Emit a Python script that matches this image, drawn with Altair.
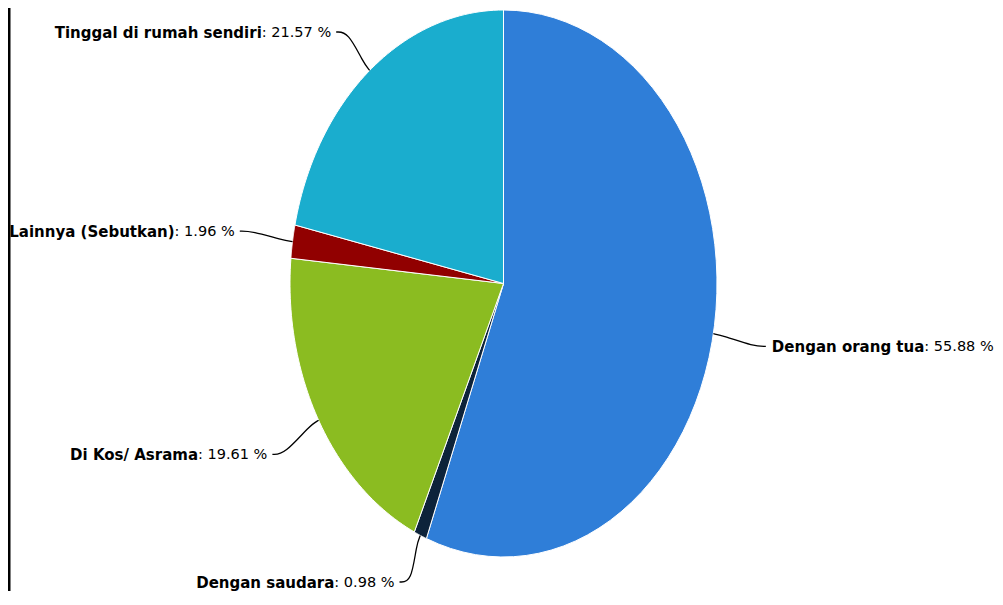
import altair as alt
import pandas as pd

# ---- data ----
categories = ["Dengan orang tua", "Dengan saudara", "Di Kos/ Asrama",
              "Lainnya (Sebutkan)", "Tinggal di rumah sendiri"]
percentages = [55.88, 0.98, 19.61, 1.96, 21.57]
colors = ["#2f7ed8", "#0d233a", "#8bbc21", "#910000", "#1aadce"]

# ---- layout constants ----
W, H = 987, 583
CX, CY = 495.5, 275.5        # pie centre (chart pixels)
RX, RY = 213.5, 273.5        # pie radii (the reference pie is stretched)
LABEL_K = 1.25               # label distance factor
BOLD_FS = 15
VAL_FS = 14.5
FONT = "DejaVu Sans"
N = 60                       # arc resolution

# approximate DejaVu Sans advance widths (em) for label spacing
REG_W = {":": 0.337, " ": 0.318, ".": 0.318, "%": 0.950}
for d in "0123456789":
    REG_W[d] = 0.636
BOLD_W = {"D": 0.830, "e": 0.678, "n": 0.712, "g": 0.716, "a": 0.675, " ": 0.348,
          "o": 0.687, "r": 0.493, "t": 0.478, "u": 0.712, "i": 0.343, "l": 0.343,
          "d": 0.716, "m": 1.042, "h": 0.712, "s": 0.595, "T": 0.682, "k": 0.664,
          "K": 0.776, "A": 0.774, "L": 0.638, "S": 0.724, "y": 0.650, "b": 0.716,
          "(": 0.457, ")": 0.457, "/": 0.364}


def text_width(s, table, fs):
    return sum(table.get(c, 0.65) for c in s) * fs


value_texts = [": %.2f %%" % p for p in percentages]

df = pd.DataFrame({
    "category": categories,
    "pct": percentages,
    "idx": list(range(len(categories))),
    "value_text": value_texts,
})
df["val_w"] = [text_width(s, REG_W, VAL_FS) for s in value_texts]
df["bold_w"] = [text_width(s, BOLD_W, BOLD_FS) for s in categories]

xs = alt.Scale(domain=[0, W], nice=False, zero=False)
ys = alt.Scale(domain=[0, H], reverse=True, nice=False, zero=False)
color_scale = alt.Scale(domain=categories, range=colors)

base = alt.Chart(df).transform_window(
    cum="sum(pct)", sort=[alt.SortField("idx")], frame=[None, 0]
).transform_joinaggregate(
    total="sum(pct)"
).transform_calculate(
    a0="2*PI*(datum.cum - datum.pct)/datum.total",
    a1="2*PI*datum.cum/datum.total",
).transform_calculate(
    mid="(datum.a0 + datum.a1)/2"
).transform_calculate(
    sx="sin(datum.mid)",
    cy_="cos(datum.mid)",
)

# ---- pie slices as filled paths ----
slices = base.transform_calculate(
    k=f"sequence(0, {N + 2})"
).transform_flatten(["k"]).transform_calculate(
    ang=f"datum.a0 + (datum.a1 - datum.a0) * clamp((datum.k - 1) / {N - 1}, 0, 1)",
    on_edge=f"datum.k > 0 && datum.k < {N + 1}",
).transform_calculate(
    px=f"datum.on_edge ? {CX} + {RX} * sin(datum.ang) : {CX}",
    py=f"datum.on_edge ? {CY} - {RY} * cos(datum.ang) : {CY}",
).mark_line(stroke="white", strokeWidth=1, strokeJoin="round").encode(
    x=alt.X("px:Q", scale=xs, axis=None),
    y=alt.Y("py:Q", scale=ys, axis=None),
    fill=alt.Fill("category:N", scale=color_scale, legend=None),
    detail="category:N",
    order=alt.Order("k:Q"),
)

# ---- label anchors ----
anchored = base.transform_calculate(
    ex=f"{CX} + {RX} * datum.sx",
    ey=f"{CY} - {RY} * datum.cy_",
    bx_=f"{CX} + {RX + 10} * datum.sx",
    by_=f"{CY} - {RY + 10} * datum.cy_",
    ax=f"{CX} + {RX * LABEL_K} * datum.sx",
    ay=f"clamp({CY} - {RY * LABEL_K} * datum.cy_, 24, 574)",
    side="datum.sx >= 0 ? 1 : -1",
)

connectors = anchored.transform_calculate(
    k="sequence(0, 4)"
).transform_flatten(["k"]).transform_calculate(
    lx="datum.k == 0 ? datum.ax : datum.k == 1 ? datum.ax - datum.side * 12 : datum.k == 2 ? datum.bx_ : datum.ex",
    ly="datum.k == 0 ? datum.ay : datum.k == 1 ? datum.ay : datum.k == 2 ? datum.by_ : datum.ey",
).mark_line(color="#000000", strokeWidth=1.3, interpolate="basis").encode(
    x=alt.X("lx:Q", scale=xs, axis=None),
    y=alt.Y("ly:Q", scale=ys, axis=None),
    detail="category:N",
    order=alt.Order("k:Q"),
)

left = anchored.transform_filter("datum.side < 0")
right = anchored.transform_filter("datum.side > 0")


def text_layer(src, tx_expr, align, field, size, bold):
    kw = dict(align=align, baseline="middle", dy=1, font=FONT, fontSize=size, color="#000")
    if bold:
        kw["fontWeight"] = "bold"
    return src.transform_calculate(tx=tx_expr).mark_text(**kw).encode(
        x=alt.X("tx:Q", scale=xs, axis=None),
        y=alt.Y("ay:Q", scale=ys, axis=None),
        text=f"{field}:N",
    )


left_val = text_layer(left, "datum.ax - 5", "right", "value_text", VAL_FS, False)
left_bold = text_layer(left, "datum.ax - 5 - datum.val_w", "right", "category", BOLD_FS, True)
right_bold = text_layer(right, "datum.ax + 6", "left", "category", BOLD_FS, True)
right_val = text_layer(right, "datum.ax + 6 + datum.bold_w", "left", "value_text", VAL_FS, False)

border = alt.Chart(pd.DataFrame({"edge": [0]})).mark_rule(
    color="black", strokeWidth=5
).encode(x=alt.value(0), y=alt.value(0), y2=alt.value(H))

chart = alt.layer(
    slices, connectors, left_bold, left_val, right_bold, right_val, border
).properties(
    width=W, height=H, padding=0, background="white",
    autosize=alt.AutoSizeParams(type="none"),
).configure_view(stroke=None)

chart.save("out.html", embed_options={"renderer": "svg", "actions": False})
